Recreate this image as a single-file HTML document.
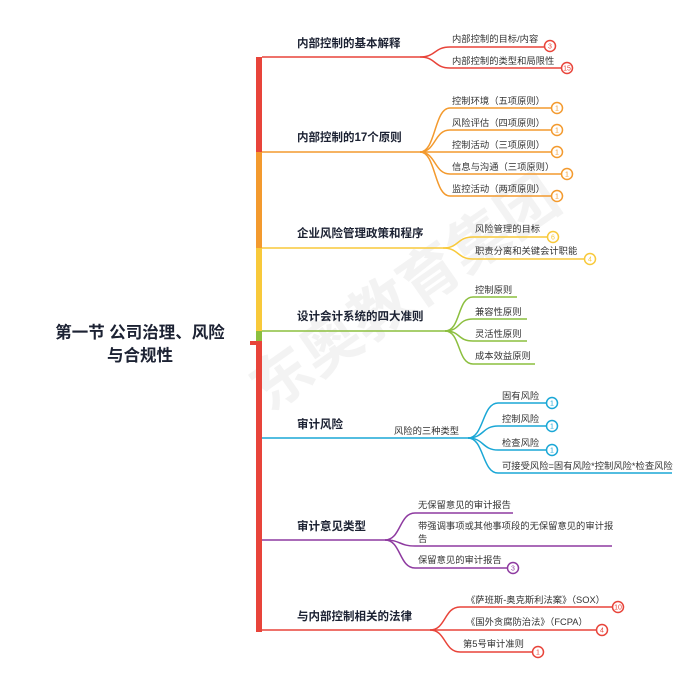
<!DOCTYPE html>
<html><head><meta charset="utf-8"><style>
html,body{margin:0;padding:0;background:#fff;}
svg{display:block;font-family:"Liberation Sans","Noto Sans CJK SC",sans-serif;}
.t{font-size:11.5px;font-weight:bold;fill:#1c2233;}
.c{font-size:9.3px;fill:#333;}
.n{font-size:7px;text-anchor:middle;}
</style></head><body>
<svg width="700" height="680" viewBox="0 0 700 680">
<g opacity="0.045" transform="rotate(-35 370 330)"><text x="240" y="340" font-size="60" font-weight="bold" fill="#000">东奥教育集团</text></g>
<rect x="256" y="57" width="6" height="95" fill="#e8443a"/>
<rect x="256" y="152" width="6" height="96" fill="#f39a2e"/>
<rect x="256" y="248" width="6" height="83" fill="#f8c93a"/>
<rect x="256" y="331" width="6" height="10" fill="#8cbf3f"/>
<rect x="256" y="341" width="6" height="291" fill="#e8443a"/>
<rect x="250" y="341" width="8" height="4" fill="#e8443a"/>
<text x="140" y="338" font-size="16.5" font-weight="bold" fill="#1c2233" text-anchor="middle">第一节 公司治理、风险</text>
<text x="140" y="361" font-size="16.5" font-weight="bold" fill="#1c2233" text-anchor="middle">与合规性</text>

<g fill="none" stroke-width="1.5">
<g stroke="#e8443a">
<path d="M262 57 H420"/>
<path d="M420 57 C436 57 434 47 450 47 H544"/>
<path d="M420 57 C436 57 434 68 450 68 H561"/>
<circle cx="550" cy="46" r="5.5" fill="#fff"/><circle cx="567" cy="68" r="5.5" fill="#fff"/>
</g>
<g stroke="#f39a2e">
<path d="M262 152 H420"/>
<path d="M420 152 C436 152 434 108 450 108 H551"/>
<path d="M420 152 C436 152 434 130 450 130 H551"/>
<path d="M420 152 H551"/>
<path d="M420 152 C436 152 434 174 450 174 H561"/>
<path d="M420 152 C436 152 434 196 450 196 H551"/>
<circle cx="557" cy="108" r="5.5" fill="#fff"/><circle cx="557" cy="130" r="5.5" fill="#fff"/><circle cx="557" cy="152" r="5.5" fill="#fff"/><circle cx="567" cy="174" r="5.5" fill="#fff"/><circle cx="557" cy="196" r="5.5" fill="#fff"/>
</g>
<g stroke="#f8c93a">
<path d="M262 248 H443"/>
<path d="M443 248 C459 248 457 237 473 237 H547"/>
<path d="M443 248 C459 248 457 259 473 259 H584"/>
<circle cx="553" cy="237" r="5.5" fill="#fff"/><circle cx="590" cy="259" r="5.5" fill="#fff"/>
</g>
<g stroke="#8cbf3f">
<path d="M262 331 H445"/>
<path d="M445 331 C461 331 457 297 473 297 H517"/>
<path d="M445 331 C461 331 457 319 473 319 H527"/>
<path d="M445 331 C461 331 457 341 473 341 H527"/>
<path d="M445 331 C461 331 457 364 473 364 H535"/>
</g>
<g stroke="#1aa7d6">
<path d="M262 438 H468"/>
<path d="M468 438 C484 438 482 403 498 403 H546"/>
<path d="M468 438 C484 438 482 426 498 426 H546"/>
<path d="M468 438 C484 438 482 450 498 450 H546"/>
<path d="M468 438 C484 438 482 473 498 473 H672"/>
<circle cx="552" cy="403" r="5.5" fill="#fff"/><circle cx="552" cy="426" r="5.5" fill="#fff"/><circle cx="552" cy="450" r="5.5" fill="#fff"/>
</g>
<g stroke="#8e3aa0">
<path d="M262 540 H385"/>
<path d="M385 540 C401 540 399 513 415 513 H513"/>
<path d="M385 540 C401 540 399 546 415 546 H612"/>
<path d="M385 540 C401 540 399 568 415 568 H507"/>
<circle cx="513" cy="568" r="5.5" fill="#fff"/>
</g>
<g stroke="#e8443a">
<path d="M262 630 H430"/>
<path d="M430 630 C446 630 444 607 460 607 H612"/>
<path d="M430 630 H596"/>
<path d="M430 630 C446 630 444 652 460 652 H532"/>
<circle cx="618" cy="607" r="5.5" fill="#fff"/><circle cx="602" cy="630" r="5.5" fill="#fff"/><circle cx="538" cy="652" r="5.5" fill="#fff"/>
</g>
</g>

<text class="t" x="297" y="47">内部控制的基本解释</text>
<text class="t" x="297" y="141">内部控制的17个原则</text>
<text class="t" x="297" y="237">企业风险管理政策和程序</text>
<text class="t" x="297" y="320">设计会计系统的四大准则</text>
<text class="t" x="297" y="428">审计风险</text>
<text class="t" x="297" y="530">审计意见类型</text>
<text class="t" x="297" y="620">与内部控制相关的法律</text>

<g class="c">
<text x="452" y="42">内部控制的目标/内容</text>
<text x="452" y="64">内部控制的类型和局限性</text>
<text x="452" y="104">控制环境（五项原则）</text>
<text x="452" y="126">风险评估（四项原则）</text>
<text x="452" y="148">控制活动（三项原则）</text>
<text x="452" y="170">信息与沟通（三项原则）</text>
<text x="452" y="192">监控活动（两项原则）</text>
<text x="475" y="232">风险管理的目标</text>
<text x="475" y="254">职责分离和关键会计职能</text>
<text x="475" y="293">控制原则</text>
<text x="475" y="315">兼容性原则</text>
<text x="475" y="337">灵活性原则</text>
<text x="475" y="359">成本效益原则</text>
<text x="394" y="434">风险的三种类型</text>
<text x="502" y="399">固有风险</text>
<text x="502" y="422">控制风险</text>
<text x="502" y="446">检查风险</text>
<text x="502" y="469">可接受风险=固有风险*控制风险*检查风险</text>
<text x="418" y="508">无保留意见的审计报告</text>
<text x="418" y="529">带强调事项或其他事项段的无保留意见的审计报</text>
<text x="418" y="542">告</text>
<text x="418" y="563">保留意见的审计报告</text>
<text x="466" y="603">《萨班斯-奥克斯利法案》（SOX）</text>
<text x="466" y="625">《国外贪腐防治法》（FCPA）</text>
<text x="463" y="647">第5号审计准则</text>
</g>
<g class="n">
<text x="550" y="48.5" fill="#e8443a">3</text><text x="567" y="70.5" fill="#e8443a">15</text>
<text x="557" y="110.5" fill="#f39a2e">1</text><text x="557" y="132.5" fill="#f39a2e">1</text><text x="557" y="154.5" fill="#f39a2e">1</text><text x="567" y="176.5" fill="#f39a2e">1</text><text x="557" y="198.5" fill="#f39a2e">1</text>
<text x="553" y="239.5" fill="#f8c93a">6</text><text x="590" y="261.5" fill="#f8c93a">4</text>
<text x="552" y="405.5" fill="#1aa7d6">1</text><text x="552" y="428.5" fill="#1aa7d6">1</text><text x="552" y="452.5" fill="#1aa7d6">1</text>
<text x="513" y="570.5" fill="#8e3aa0">3</text>
<text x="618" y="609.5" fill="#e8443a">10</text><text x="602" y="632.5" fill="#e8443a">4</text><text x="538" y="654.5" fill="#e8443a">1</text>
</g>
</svg>
</body></html>
